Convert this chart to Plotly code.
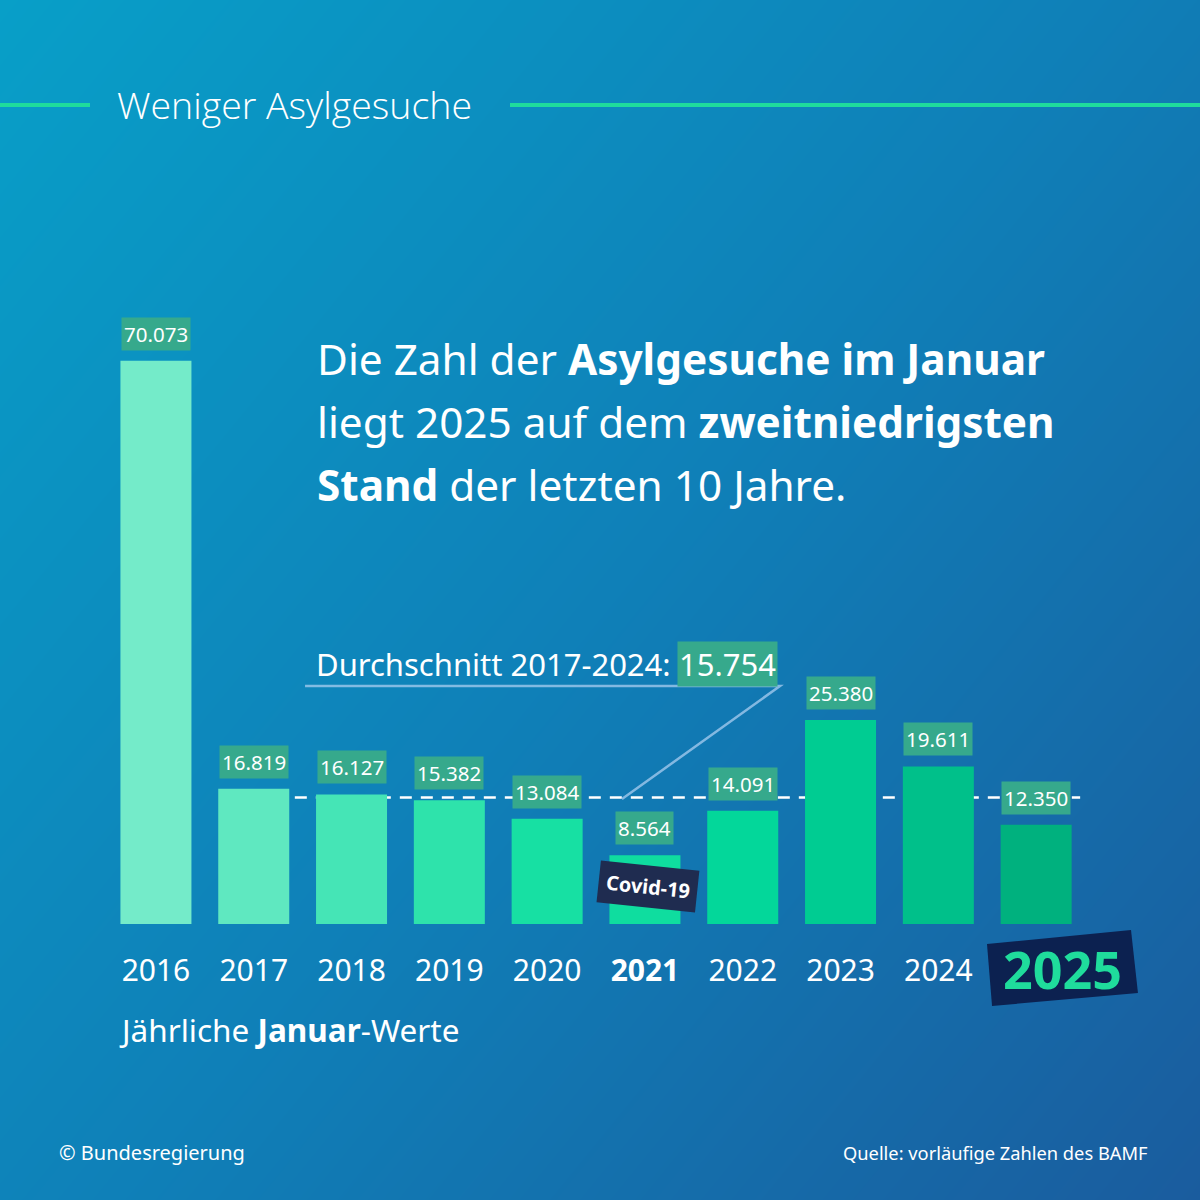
import plotly.graph_objects as go

# January asylum requests (BAMF, preliminary)
years = [2016, 2017, 2018, 2019, 2020, 2021, 2022, 2023, 2024, 2025]
values = [70073, 16819, 16127, 15382, 13084, 8564, 14091, 25380, 19611, 12350]
average_2017_2024 = 15754
tick_labels = ["2016", "2017", "2018", "2019", "2020", "<b>2021</b>", "2022", "2023", "2024", ""]

bar_colors = ["#74ebc9", "#5fe8c0", "#45e5b6", "#2ee3ab", "#17e0a3",
              "#0fdd9f", "#03d79a", "#00cc92", "#00c08a", "#00b17e"]

FONT = "Noto Sans"
LABEL_BG = "#36a98c"
NAVY = "#0c2150"
GREEN = "#1fdc9c"


def de_num(v):
    return f"{v:,}".replace(",", ".")


fig = go.Figure()

# diagonal background gradient on its own full-page axes
fig.add_trace(go.Heatmap(
    x=[0, 1], y=[0, 1], z=[[0.45, 1.0], [0.0, 0.55]],
    colorscale=[[0, "#089fc8"], [0.5, "#0f80b8"], [1, "#1a5c9e"]],
    zmin=0, zmax=1, zsmooth="best", showscale=False, hoverinfo="skip",
    xaxis="x", yaxis="y",
))

fig.add_trace(go.Bar(
    x=years, y=values, width=0.726,
    marker=dict(color=bar_colors, line=dict(width=0)),
    xaxis="x2", yaxis="y2", hoverinfo="x+y",
))

annotations = []
for yr, v in zip(years, values):
    annotations.append(dict(
        x=yr, y=v, xref="x2", yref="y2", text=de_num(v),
        yanchor="bottom", yshift=10, showarrow=False,
        bgcolor=LABEL_BG, borderpad=2,
        font=dict(family=FONT, size=20.5, color="white"),
    ))

# title
annotations.append(dict(
    x=115 / 1200, y=1 - 104 / 1200, xref="paper", yref="paper",
    xanchor="left", yanchor="middle", showarrow=False,
    text="Weniger Asylgesuche",
    font=dict(family="Open Sans", size=37.5, color="white", weight=300),
))

# headline, one line per annotation
headline = [
    "Die Zahl der <b>Asylgesuche im Januar</b>",
    "liegt 2025 auf dem <b>zweitniedrigsten</b>",
    "<b>Stand</b> der letzten 10 Jahre.",
]
for i, line in enumerate(headline):
    annotations.append(dict(
        x=315 / 1200, y=1 - (358 + i * 63) / 1200, xref="paper", yref="paper",
        xanchor="left", yanchor="middle", showarrow=False, text=line,
        font=dict(family=FONT, size=42.3, color="white"),
    ))

# average label
annotations.append(dict(
    x=673 / 1200, y=1 - 664 / 1200, xref="paper", yref="paper",
    xanchor="right", yanchor="middle", showarrow=False,
    text="Durchschnitt 2017-2024:",
    font=dict(family=FONT, size=31, color="white"),
))
annotations.append(dict(
    x=677 / 1200, y=1 - 664 / 1200, xref="paper", yref="paper",
    xanchor="left", yanchor="middle", showarrow=False,
    text=de_num(average_2017_2024), bgcolor=LABEL_BG, borderpad=1,
    font=dict(family=FONT, size=31, color="white"),
))

# Covid-19 tag
annotations.append(dict(
    x=2021, y=1 - 886 / 1200, xref="x2", yref="paper", xshift=3,
    xanchor="center", yanchor="middle",
    showarrow=False, text="<b>Covid-19</b>", textangle=6,
    bgcolor="#1f2c50", borderpad=7,
    font=dict(family=FONT, size=20, color="white"),
))

# highlighted 2025 tick
annotations.append(dict(
    x=1062 / 1200, y=1 - 968 / 1200, xref="paper", yref="paper",
    xanchor="center", yanchor="middle", showarrow=False, text="<b>2025</b>",
    font=dict(family=FONT, size=52, color=GREEN),
))

annotations.append(dict(
    x=117 / 1200, y=1 - 1029 / 1200, xref="paper", yref="paper",
    xanchor="left", yanchor="middle", showarrow=False,
    text="Jährliche <b>Januar</b>-Werte",
    font=dict(family=FONT, size=31.5, color="white"),
))

annotations.append(dict(
    x=57 / 1200, y=1 - 1152 / 1200, xref="paper", yref="paper",
    xanchor="left", yanchor="middle", showarrow=False,
    text="© Bundesregierung",
    font=dict(family=FONT, size=20, color="white"),
))
annotations.append(dict(
    x=1150 / 1200, y=1 - 1152 / 1200, xref="paper", yref="paper",
    xanchor="right", yanchor="middle", showarrow=False,
    text="Quelle: vorläufige Zahlen des BAMF",
    font=dict(family=FONT, size=18.3, color="white"),
))

shapes = [
    # title rules
    dict(type="line", xref="paper", yref="paper", layer="above",
         x0=0, x1=90 / 1200, y0=1 - 105 / 1200, y1=1 - 105 / 1200,
         line=dict(color=GREEN, width=4)),
    dict(type="line", xref="paper", yref="paper", layer="above",
         x0=510 / 1200, x1=1, y0=1 - 105 / 1200, y1=1 - 105 / 1200,
         line=dict(color=GREEN, width=4)),
    # average dashed line, behind bars
    dict(type="line", xref="x2", yref="y2", layer="below",
         x0=2017.42, x1=2025.45, y0=average_2017_2024, y1=average_2017_2024,
         line=dict(color="white", width=2.5, dash="12px,9px")),
    # leader line to average label
    dict(type="path", xref="paper", yref="paper", layer="above",
         path="M 0.2542,0.4283 L 0.65,0.4283 L 0.5183,0.3342",
         line=dict(color="rgba(170,205,240,0.75)", width=2.5)),
    # 2025 navy tag
    dict(type="path", xref="paper", yref="paper", layer="above",
         path="M 0.8225,0.2133 L 0.9425,0.2250 L 0.9483,0.1725 L 0.8267,0.1617 Z",
         fillcolor=NAVY, line=dict(width=0)),
]

fig.update_layout(
    width=1200, height=1200,
    margin=dict(l=0, r=0, t=0, b=0),
    paper_bgcolor="#0f80b8", plot_bgcolor="rgba(0,0,0,0)",
    showlegend=False,
    xaxis=dict(domain=[0, 1], range=[0, 1], visible=False, fixedrange=True),
    yaxis=dict(domain=[0, 1], range=[0, 1], visible=False, fixedrange=True),
    xaxis2=dict(domain=[0.0892, 0.9042], range=[2015.5, 2025.5], anchor="y2",
                tickvals=years, ticktext=tick_labels, showgrid=False,
                zeroline=False, showline=False, ticks="", ticklabelstandoff=26,
                tickfont=dict(family=FONT, size=30, color="white")),
    yaxis2=dict(domain=[0.23, 0.7658], range=[0, 80000], anchor="x2",
                visible=False, showgrid=False, zeroline=False),
    annotations=annotations,
    shapes=shapes,
)

fig.write_html("out.html", config={"displayModeBar": False},
               post_script="document.body.style.margin='0';")
